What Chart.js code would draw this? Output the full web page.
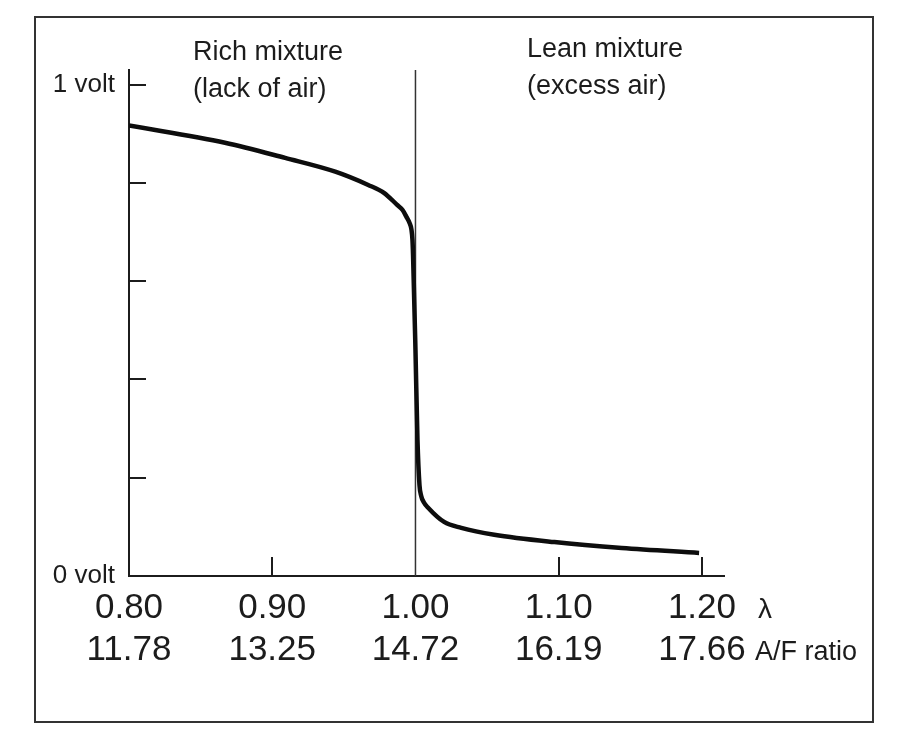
<!DOCTYPE html>
<html>
<head>
<meta charset="utf-8">
<script src="https://cdn.jsdelivr.net/npm/chart.js@4.4.0/dist/chart.umd.min.js"></script>
<style>
  html, body { margin: 0; padding: 0; background: #fff; }
  #wrap { width: 900px; height: 734px; }
</style>
</head>
<body>
<div id="wrap"><canvas id="sensorChart" width="900" height="734"></canvas></div>
<script>
/* Data Value */
const lambdaTicks = [0.8, 0.9, 1.0, 1.1, 1.2];
const afTicks = ["11.78", "13.25", "14.72", "16.19", "17.66"];
const voltTicks = [0, 0.2, 0.4, 0.6, 0.8, 1.0];
const voltLabels = ["0 volt", "", "", "", "", "1 volt"];

const curveLambda = [0.800, 0.867, 0.909, 0.944, 0.967, 0.978, 0.987, 0.991, 0.9937, 0.9958,
  0.9972, 0.9979, 0.9983, 1.000, 1.0014, 1.0028, 1.0040, 1.0058, 1.0085, 1.020,
  1.032, 1.055, 1.097, 1.144, 1.198];
const curveVolt = [0.917, 0.882, 0.851, 0.823, 0.796, 0.780, 0.756, 0.745, 0.731, 0.719,
  0.705, 0.684, 0.654, 0.460, 0.277, 0.185, 0.163, 0.150, 0.140, 0.110,
  0.098, 0.084, 0.069, 0.057, 0.047];

const stoichLambda = 1.0;
const voltTop = 1.03;

const richText = ["Rich mixture", "(lack of air)"];
const leanText = ["Lean mixture", "(excess air)"];

const FONT = "'Liberation Sans', Arial, Helvetica, sans-serif";
const INK = "#1c1c1c";

/* Plugins */
const frameAndText = {
  id: "frameAndText",
  beforeDraw(chart) {
    const { ctx } = chart;
    ctx.save();
    ctx.fillStyle = "#fff";
    ctx.fillRect(0, 0, chart.width, chart.height);
    ctx.strokeStyle = "#333";
    ctx.lineWidth = 2;
    ctx.strokeRect(35, 17, 838, 705);
    ctx.restore();
  },
  afterDraw(chart) {
    const { ctx, scales: { x } } = chart;
    ctx.save();
    ctx.fillStyle = INK;
    ctx.textBaseline = "middle";
    ctx.textAlign = "left";
    ctx.font = "27px " + FONT;
    ctx.fillText(richText[0], 193, 53);
    ctx.fillText(richText[1], 193, 90);
    ctx.fillText(leanText[0], 527, 50);
    ctx.fillText(leanText[1], 527, 87);

    ctx.font = "28px " + FONT;
    ctx.fillText("λ", x.right + 34, 610);
    ctx.font = "27px " + FONT;
    ctx.fillText("A/F ratio", x.right + 31, 653);
    ctx.restore();
  },
};

const inwardTicks = {
  id: "inwardTicks",
  afterDatasetsDraw(chart) {
    const { ctx, scales: { x, y } } = chart;
    ctx.save();
    ctx.strokeStyle = INK;
    ctx.lineWidth = 2;
    ctx.beginPath();
    voltTicks.forEach((v) => {
      if (v === 0) return;
      const py = Math.round(y.getPixelForValue(v));
      ctx.moveTo(x.left, py);
      ctx.lineTo(x.left + 17, py);
    });
    lambdaTicks.forEach((v) => {
      if (v === lambdaTicks[0] || v === stoichLambda) return;
      const px = Math.round(x.getPixelForValue(v));
      ctx.moveTo(px, y.bottom);
      ctx.lineTo(px, y.bottom - 19);
    });
    ctx.stroke();
    ctx.restore();
  },
};

/* Chart */
const ctxEl = document.getElementById("sensorChart");

new Chart(ctxEl, {
  type: "line",
  data: {
    datasets: [
      {
        data: [{ x: stoichLambda, y: 0 }, { x: stoichLambda, y: voltTop }],
        borderColor: "#333",
        borderWidth: 1.5,
        pointRadius: 0,
        order: 2,
      },
      {
        data: curveLambda.map((l, i) => ({ x: l, y: curveVolt[i] })),
        borderColor: "#0d0d0d",
        borderWidth: 4.5,
        pointRadius: 0,
        cubicInterpolationMode: "monotone",
        order: 1,
      },
    ],
  },
  options: {
    responsive: false,
    animation: false,
    devicePixelRatio: 1,
    layout: { padding: { left: 0, right: 176, top: 70, bottom: 0 } },
    scales: {
      x: {
        type: "linear",
        min: 0.8,
        max: 1.2154,
        afterBuildTicks: (scale) => {
          scale.ticks = lambdaTicks.map((v) => ({ value: v }));
        },
        afterFit: (scale) => {
          scale.height = 158;
        },
        grid: { display: false, drawTicks: false },
        border: { display: true, color: INK, width: 2 },
        ticks: {
          autoSkip: false,
          maxRotation: 0,
          padding: 11,
          color: INK,
          font: { family: FONT, size: 35, lineHeight: 1.2 },
          callback: (value) => {
            const i = lambdaTicks.findIndex((t) => Math.abs(t - value) < 1e-6);
            return i < 0 ? "" : [lambdaTicks[i].toFixed(2), afTicks[i]];
          },
        },
      },
      y: {
        type: "linear",
        min: 0,
        max: voltTop,
        afterBuildTicks: (scale) => {
          scale.ticks = voltTicks.map((v) => ({ value: v }));
        },
        afterFit: (scale) => {
          scale.width = 129;
        },
        grid: { display: false, drawTicks: false },
        border: { display: true, color: INK, width: 2 },
        ticks: {
          autoSkip: false,
          padding: 14,
          color: INK,
          font: { family: FONT, size: 26 },
          callback: (value) => {
            const i = voltTicks.findIndex((t) => Math.abs(t - value) < 1e-6);
            return i < 0 ? "" : voltLabels[i];
          },
        },
      },
    },
    plugins: {
      legend: { display: false },
      tooltip: { enabled: false },
    },
  },
  plugins: [frameAndText, inwardTicks],
});
</script>
</body>
</html>
